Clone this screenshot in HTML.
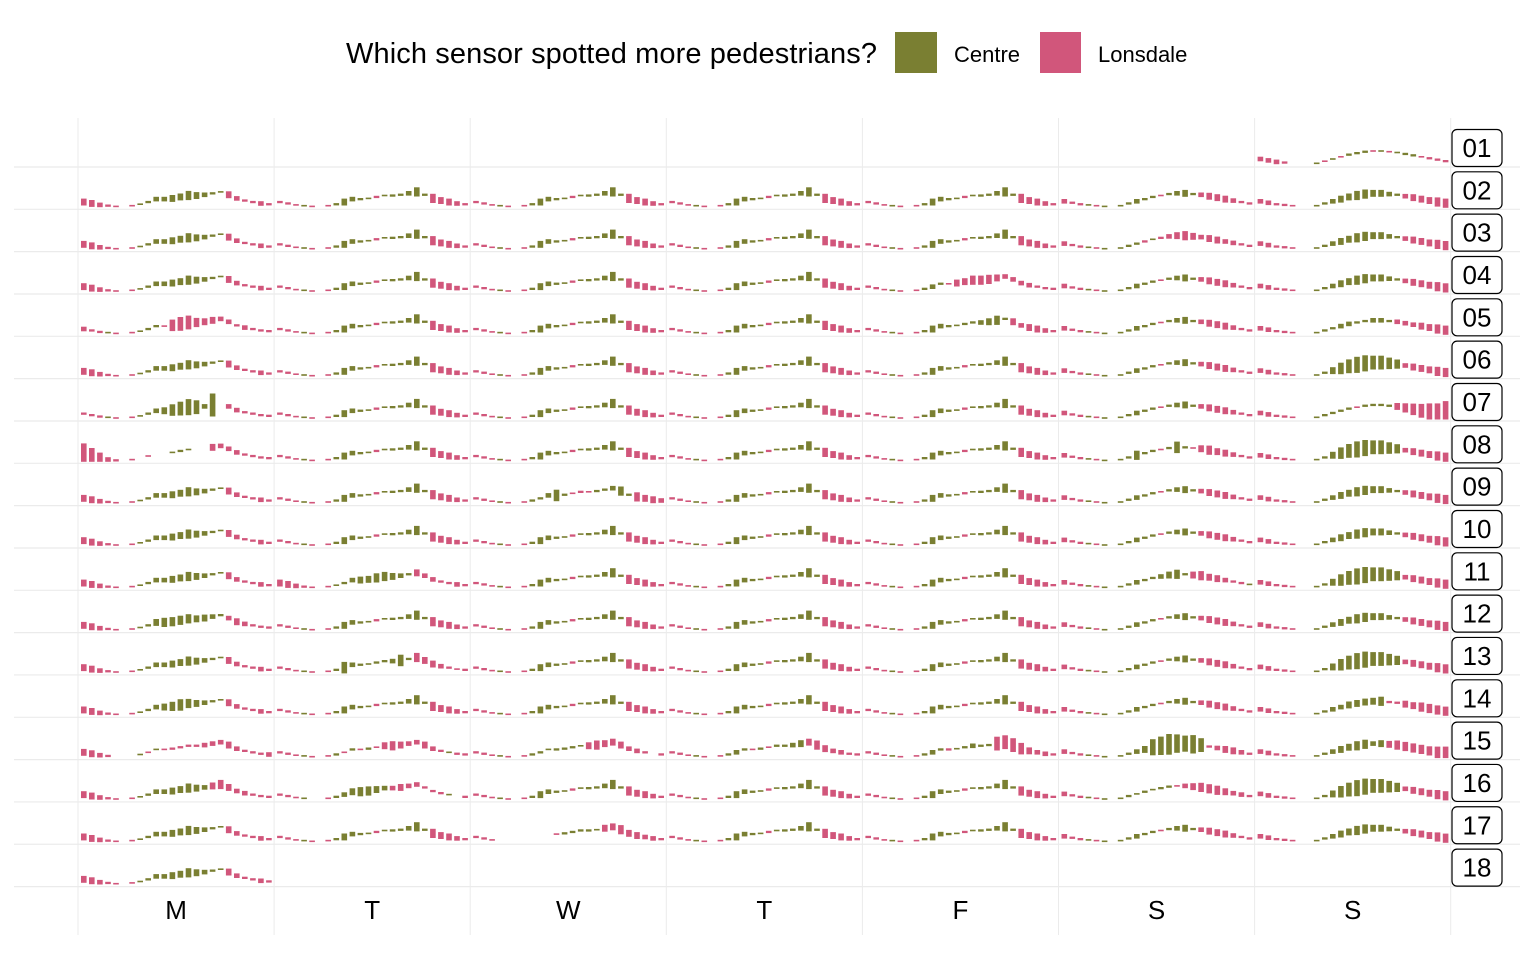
<!DOCTYPE html>
<html><head><meta charset="utf-8">
<style>
html,body{margin:0;padding:0;background:#fff;}
body{width:1536px;height:949px;overflow:hidden;font-family:"Liberation Sans",sans-serif;}
</style></head>
<body>
<svg id="chart" width="1536" height="949" viewBox="0 0 1536 949" xmlns="http://www.w3.org/2000/svg">
  <g>
    <text x="346" y="63" font-size="29" textLength="531" fill="#000" font-family="Liberation Sans, sans-serif">Which sensor spotted more pedestrians?</text>
    <rect x="895" y="32" width="42" height="41" fill="#7a7f32"/>
    <text x="954" y="62" font-size="22" fill="#000" font-family="Liberation Sans, sans-serif">Centre</text>
    <rect x="1040" y="32" width="41" height="41" fill="#d1567b"/>
    <text x="1098" y="62" font-size="22" fill="#000" font-family="Liberation Sans, sans-serif">Lonsdale</text>
  </g>
  <g id="grid"></g>
  <g id="bars"></g>
  <g id="labels"></g>
  <g id="xaxis"></g>
</svg>
<script>
// ---- data ----
const dayLabels = ["M","T","W","T","F","S","S"];
const weekLabels = ["01","02","03","04","05","06","07","08","09","10","11","12","13","14","15","16","17","18"];
// typical hourly level (overall pedestrian count, scaled 0-15)
const weekdayLevel = [4,3,2,1.5,1,1,1.5,2.5,4,6,6,6.5,7.5,8.5,8.5,9,10,11,9,6.5,5,4,3,2.5];
const weekendLevel = [4.5,3.5,2.5,2,1.5,1,1,1.5,3,4.5,6,7.5,8.5,9.5,10,10,9.5,9,8,7,6,5,4,3];
// per-cell signed difference: a..j = Lonsdale more (1..10), A..J = Centre more, 0 = tie, . = no data
const T_MON = "ccba0.00ABBCCDCBA0cbaaba";
const T_WD  = "aa000.0ACBA0a0AABDAdccba";
const T_SAT = "baa000.0ABAA0ABCAbcccbaa";
const T_SUN = "bbaa0..0ABCCDDCCBAbcccdd";
const T_SUNB= "bbaa0..0ACEFGGFFEDbcccdd";
const NONE  = "........................";
const weeks = [
 [NONE,NONE,NONE,NONE,NONE,NONE,"bbba...0000AAA0000AA0aaa"],
 [T_MON,T_WD,T_WD,T_WD,T_WD,T_SAT,T_SUN],
 [T_MON,T_WD,T_WD,T_WD,T_WD,"baa000.0AAa0abcdcbccbbaa",T_SUN],
 [T_MON,T_WD,T_WD,T_WD,"aa000.0ABA0ccdddcbbbbaaa",T_SAT,T_SUN],
 ["baa00.00AA0effdccbbabaaa",T_WD,T_WD,T_WD,"aa000.0ACBA0AABCDAcbccba",T_SAT,"bbaa0..0AABBAABBAbbbccdd"],
 [T_MON,T_WD,T_WD,T_WD,T_WD,T_SAT,T_SUNB],
 ["aaa00.00ABCEFGFBJ.bbaaaa",T_WD,T_WD,T_WD,T_WD,T_SAT,"bbaa0..0AAAA0AAAAcdefggh"],
 ["hfdba.0.0..0A0..cbbbaaaa",T_WD,T_WD,T_WD,T_WD,"baa000.0ADAA0AEA0cdccbaa",T_SUNB],
 [T_MON,T_WD,"aa000.0AABEA0a0AABDAdccb",T_WD,T_WD,T_SAT,T_SUN],
 [T_MON,T_WD,T_WD,T_WD,T_WD,T_SAT,T_SUN],
 [T_MON,"ccba0.00ABCCDDCBAcbbaaba",T_WD,T_WD,T_WD,"baa000.0ABAABCDAcdccbaa0",T_SUNB],
 ["ccba0.00ACDDDDCCBAbcbaaa",T_WD,T_WD,T_WD,T_WD,T_SAT,T_SUN],
 [T_MON,"aa000.0AEBA0AABEAdccba0a",T_WD,T_WD,T_WD,T_SAT,T_SUNB],
 ["ccba0.00ABCDEDCBA0cbaaba",T_WD,T_WD,T_WD,T_WD,T_SAT,"bbaa0..0ABBCCCCDaaccdddd"],
 ["ccba...0000aaaabbbcbaaab","aa000.0A0A0A0cdcbbcba0aa","aa000.0AA0AAA0cdcccbba.a","aa000.0ABA0A0AABCcdcbbaa","aa000.0ABAa0ABAAfffecbba","baa000.0ABCGHIHGHFabccba","bbaa0..0ABCCDDBCcdddddee"],
 ["ccba0.00ABBCCDCBcdcbbaaa","aa00..0ABCDDCBbcbbaaa0.a",T_WD,T_WD,T_WD,"baa000.0A0A0AA0bcdddcbba",T_SUNB],
 [T_MON,T_WD,"aa0.......0AAAA0ccdccbba",T_WD,T_WD,T_SAT,T_SUN],
 [T_MON,NONE,NONE,NONE,NONE,NONE,NONE]
];
// ---- layout ----
const svg = document.getElementById('chart');
const NS = "http://www.w3.org/2000/svg";
const colLeft0 = 78, colW = 196.1;
const rowBottom0 = 167, rowH = 42.33;
const levelScale = 1.45, diffScale = 2.3;
const xCol = d => colLeft0 + d * colW;
const xHour = (d, h) => xCol(d) + 3 + h * 8.05;
const yRowBase = r => rowBottom0 + r * rowH - 1.5;
const GREEN = "#7a7f32", PINK = "#d1567b";

function mk(tag, attrs, parent) {
  const el = document.createElementNS(NS, tag);
  for (const k in attrs) el.setAttribute(k, attrs[k]);
  parent.appendChild(el);
  return el;
}
// grid
const grid = document.getElementById('grid');
for (let d = 0; d <= 7; d++) {
  const gl = mk('line', {x1: xCol(d), x2: xCol(d), y1: 118, y2: 935, stroke: "#ebebeb", "stroke-width": 1}, grid);
  
  
}
for (let r = 0; r < weekLabels.length; r++) {
  const y = rowBottom0 + r * rowH;
  const hl = mk('line', {x1: 14, x2: 1520, y1: y, y2: y, stroke: "#ebebeb", "stroke-width": 1.2}, grid);
  
  
}
// bars
const bars = document.getElementById('bars');
for (let r = 0; r < weeks.length; r++) {
  for (let d = 0; d < 7; d++) {
    const s = weeks[r][d];
    const lvl = d >= 5 ? weekendLevel : weekdayLevel;
    for (let h = 0; h < 24; h++) {
      const c = s[h];
      if (!c || c === '.') continue;
      let mag = 0, col = PINK;
      if (c >= 'a' && c <= 'j') { mag = c.charCodeAt(0) - 96; col = PINK; }
      else if (c >= 'A' && c <= 'J') { mag = c.charCodeAt(0) - 64; col = GREEN; }
      else { mag = 0; col = (h % 2) ? GREEN : PINK; }
      const hh = Math.max(1.6, mag * diffScale);
      const base = yRowBase(r);
      const center = base - lvl[h] * levelScale;
      let bottom = Math.min(base, center + hh / 2);
      let top = bottom - hh;
      const b = mk('rect', {x: xHour(d, h).toFixed(1), y: top.toFixed(1), width: 5.6, height: hh.toFixed(1), fill: col}, bars);
      
      
    }
  }
}
// week labels
const labels = document.getElementById('labels');
for (let r = 0; r < weekLabels.length; r++) {
  const cy = rowBottom0 + r * rowH - 19;
  const g = mk('g', {}, labels);
  
  
  mk('rect', {x: 1452, y: cy - 18.5, width: 50, height: 37, rx: 5, fill: "#fff", stroke: "#000", "stroke-width": 1.2}, g);
  const t = mk('text', {x: 1477, y: cy + 9, "text-anchor": "middle", "font-size": 26, fill: "#000", "font-family": "Liberation Sans, sans-serif"}, g);
  t.textContent = weekLabels[r];
}
// x axis
const xaxis = document.getElementById('xaxis');
for (let d = 0; d < 7; d++) {
  const t = mk('text', {x: xCol(d) + colW / 2, y: 919, "text-anchor": "middle", "font-size": 26, fill: "#000", "font-family": "Liberation Sans, sans-serif"}, xaxis);
  
  
  t.textContent = dayLabels[d];
}
</script>
</body></html>
